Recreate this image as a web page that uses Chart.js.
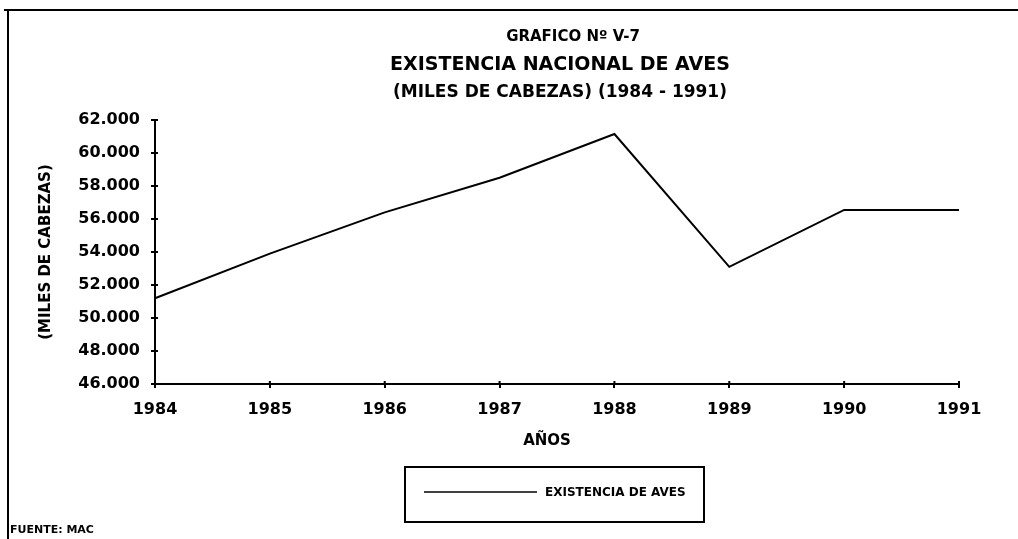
<!DOCTYPE html>
<html>
<head>
<meta charset="utf-8">
<script src="https://cdn.jsdelivr.net/npm/chart.js@4.4.0/dist/chart.umd.min.js"></script>
<style>
  html, body { margin: 0; padding: 0; background: #fff; }
  canvas { display: block; }
</style>
</head>
<body>
<canvas id="chart" width="1018" height="539"></canvas>
<script>
const years = ["1984", "1985", "1986", "1987", "1988", "1989", "1990", "1991"];
const aves = [51200, 53900, 56400, 58500, 61150, 53100, 56550, 56550];
const yMin = 46000;
const yMax = 62000;
const yStep = 2000;
const titleLines = ["GRAFICO Nº V-7", "EXISTENCIA NACIONAL DE AVES", "(MILES DE CABEZAS) (1984 - 1991)"];
const yTitle = "(MILES DE CABEZAS)";
const xTitle = "AÑOS";
const seriesName = "EXISTENCIA DE AVES";
const source = "FUENTE: MAC";

const FONT = "'DejaVu Sans', sans-serif";

function fmt(v) {
  return v.toString().replace(/\B(?=(\d{3})+(?!\d))/g, ".");
}

// frame, titles, legend box and the little inner tick marks
const extras = {
  id: "extras",
  afterDraw(chart) {
    const ctx = chart.ctx;
    const area = chart.chartArea;
    const cx = (area.left + area.right) / 2;
    ctx.save();
    ctx.strokeStyle = "#000";
    ctx.fillStyle = "#000";

    // page frame (top + left)
    ctx.lineWidth = 2;
    ctx.beginPath();
    ctx.moveTo(4, 10); ctx.lineTo(1018, 10);
    ctx.moveTo(8, 10); ctx.lineTo(8, 539);
    ctx.stroke();

    // inner half of the tick marks
    ctx.lineWidth = 2;
    const ys = chart.scales.y, xs = chart.scales.x;
    ctx.beginPath();
    ys.ticks.forEach((t, i) => {
      const p = ys.getPixelForTick(i);
      ctx.moveTo(area.left, p); ctx.lineTo(area.left + 3, p);
    });
    xs.ticks.forEach((t, i) => {
      const p = xs.getPixelForTick(i);
      ctx.moveTo(p, area.bottom); ctx.lineTo(p, area.bottom - 3);
    });
    ctx.stroke();

    ctx.textAlign = "center";
    ctx.textBaseline = "middle";
    ctx.font = "bold 15px " + FONT;
    ctx.fillText(titleLines[0], cx + 16, 37);
    ctx.font = "bold 19px " + FONT;
    ctx.fillText(titleLines[1], cx + 3, 65);
    ctx.font = "bold 17px " + FONT;
    ctx.fillText(titleLines[2], cx + 3, 93);

    // y axis title
    ctx.save();
    ctx.translate(46, 252);
    ctx.rotate(-Math.PI / 2);
    ctx.font = "bold 15px " + FONT;
    ctx.fillText(yTitle, 0, 0);
    ctx.restore();

    // x axis title
    ctx.font = "bold 15px " + FONT;
    ctx.fillText(xTitle, 547, 441);

    // legend
    ctx.lineWidth = 2;
    ctx.strokeRect(405, 467, 299, 55);
    ctx.lineWidth = 1.5;
    ctx.beginPath();
    ctx.moveTo(424, 492); ctx.lineTo(537, 492);
    ctx.stroke();
    ctx.textAlign = "left";
    ctx.font = "bold 12px " + FONT;
    ctx.fillText(chart.data.datasets[0].label, 545, 493);

    // source
    ctx.font = "bold 11px " + FONT;
    ctx.fillText(source, 10, 530);
    ctx.restore();
  }
};

new Chart(document.getElementById("chart"), {
  type: "line",
  data: {
    labels: years,
    datasets: [{
      label: seriesName,
      data: aves,
      borderColor: "#000",
      borderWidth: 2,
      pointRadius: 0,
      tension: 0,
      fill: false
    }]
  },
  options: {
    responsive: false,
    animation: false,
    devicePixelRatio: 1,
    layout: { padding: { left: 0, top: 120, right: 59, bottom: 0 } },
    plugins: {
      legend: { display: false },
      title: { display: false },
      tooltip: { enabled: false }
    },
    scales: {
      x: {
        offset: false,
        afterFit(scale) { scale.height = 155; },
        border: { display: true, color: "#000", width: 2 },
        grid: { drawOnChartArea: false, drawTicks: true, tickLength: 4, color: "#000", lineWidth: 2 },
        ticks: { color: "#000", font: { family: FONT, size: 16, weight: "bold" }, padding: 12, maxRotation: 0, autoSkip: false }
      },
      y: {
        min: yMin,
        max: yMax,
        afterFit(scale) { scale.width = 155; },
        border: { display: true, color: "#000", width: 2 },
        grid: { drawOnChartArea: false, drawTicks: true, tickLength: 4, color: "#000", lineWidth: 2 },
        ticks: {
          stepSize: yStep,
          color: "#000",
          font: { family: FONT, size: 16, weight: "bold" },
          padding: 11,
          callback: (v) => fmt(v)
        }
      }
    }
  },
  plugins: [extras]
});
</script>
</body>
</html>
